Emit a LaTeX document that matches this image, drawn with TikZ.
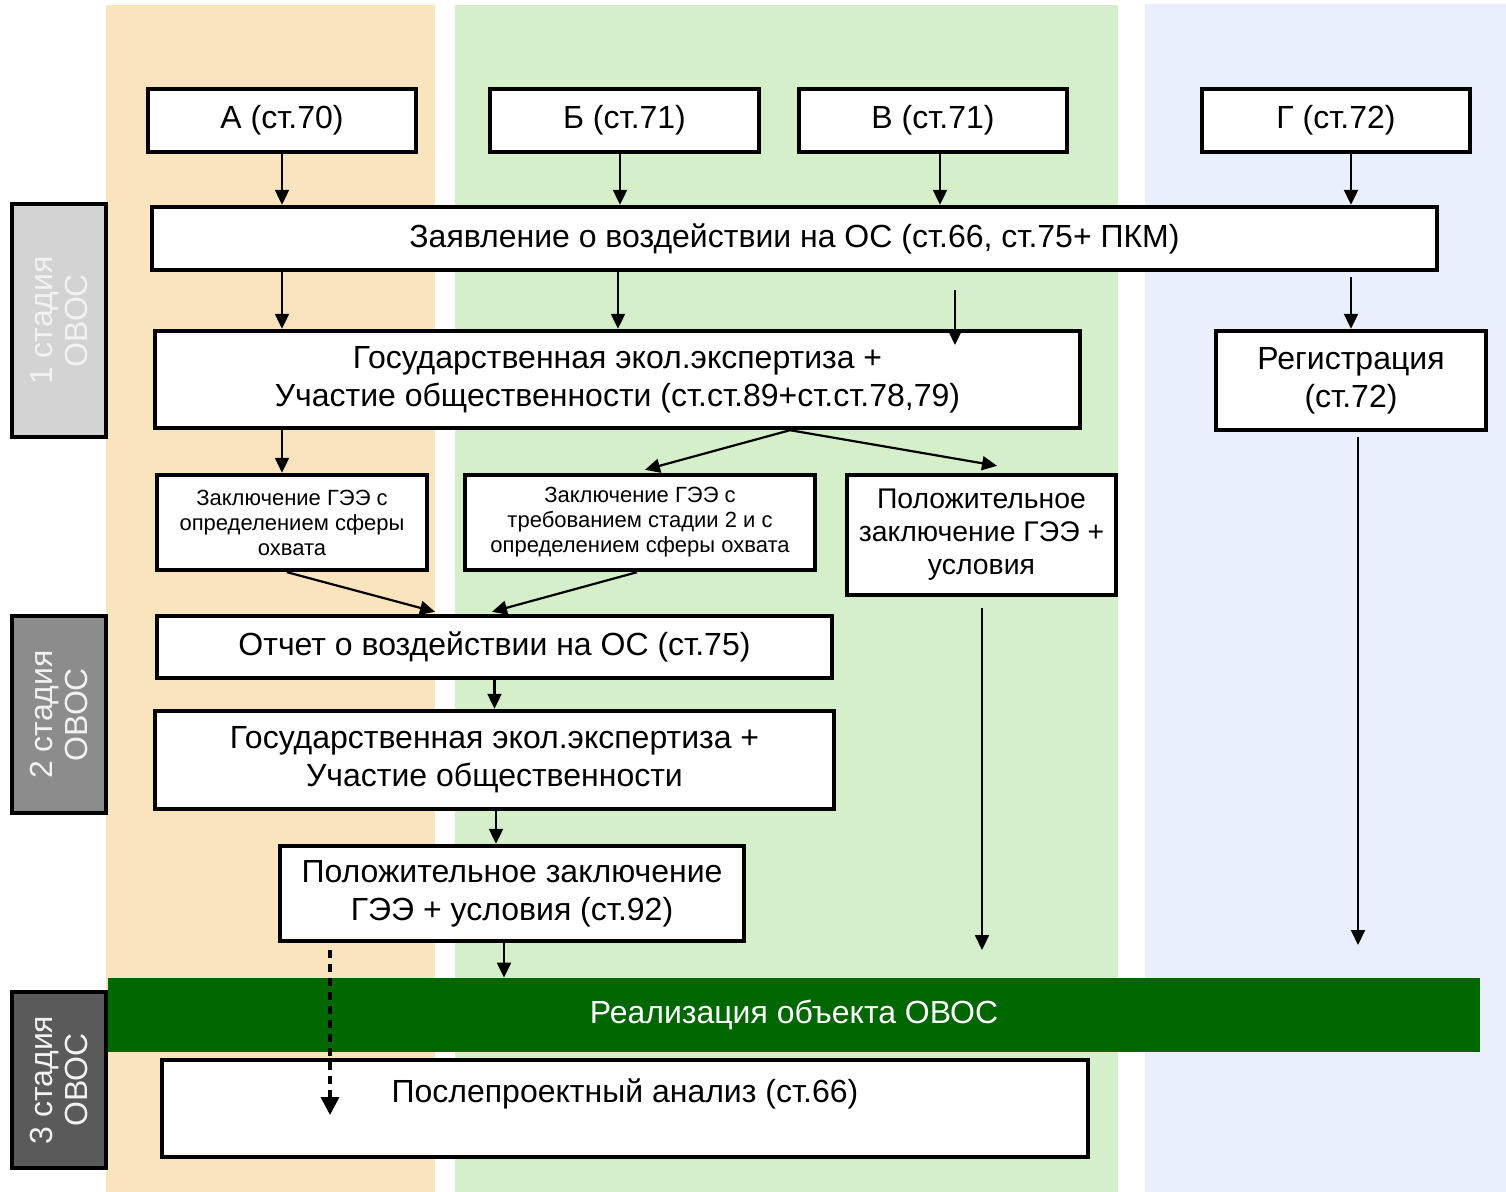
\documentclass[tikz,border=0pt]{standalone}
\usepackage{fontspec}
\setmainfont{Liberation Sans}
\usetikzlibrary{arrows.meta,calc}
\definecolor{colA}{HTML}{FAE4BE}
\definecolor{colB}{HTML}{D6EFCB}
\definecolor{colC}{HTML}{E9EFFD}
\definecolor{barc}{HTML}{006600}
\definecolor{st1}{HTML}{D3D3D3}
\definecolor{st2}{HTML}{8C8C8C}
\definecolor{st3}{HTML}{5A5A5A}
\definecolor{sttext}{HTML}{F2F2F2}
\tikzset{
  box/.style={draw, line width=2.2pt, fill=white, align=center, inner sep=0pt,
    font=\fontsize{16}{19}\selectfont},
  smallbox/.style={box, font=\fontsize{11}{12.5}\selectfont},
  midbox/.style={box, font=\fontsize{14.2}{16.5}\selectfont},
  stagebox/.style={draw, line width=2.2pt, rotate=90, align=center, inner sep=0pt,
    text=sttext, font=\fontsize{16}{17.5}\selectfont, minimum height=47pt},
  arr/.style={line width=1.1pt, -{Triangle[length=7.5pt,width=7pt]}},
  dasharr/.style={line width=1.7pt, dash pattern=on 4pt off 3pt,
    -{Triangle[length=9pt,width=9pt]}}
}
\begin{document}
\begin{tikzpicture}[x=0.5pt,y=-0.5pt]
\useasboundingbox (0,0) rectangle (1506,1192);
\fill[white] (0,0) rectangle (1506,1192);
% columns
\fill[colA] (106,5) rectangle (435,1192);
\fill[colB] (455,5) rectangle (1118,1192);
\fill[colC] (1145,4) rectangle (1506,1192);
% bar
\node[fill=barc, text=white, minimum width=686pt, minimum height=37pt, inner sep=0pt,
  font=\fontsize{16}{19}\selectfont] (bar) at (794,1015) {\raisebox{1.5pt}{Реализация объекта ОВОС}};
% stage labels
\node[stagebox, fill=st1, minimum width=116.5pt] (s1) at (59,320.5) {1 стадия\\ОВОС};
\node[stagebox, fill=st2, minimum width=98.5pt] (s2) at (59,714.5) {2 стадия\\ОВОС};
\node[stagebox, fill=st3, minimum width=88pt] (s3) at (59,1080) {3 стадия\\ОВОС};
% top boxes
\node[box, minimum width=134pt, minimum height=31.5pt] (A) at (282,120.5) {А (ст.70)};
\node[box, minimum width=134.5pt, minimum height=31.5pt] (B) at (624.5,120.5) {Б (ст.71)};
\node[box, minimum width=134pt, minimum height=31.5pt] (V) at (933,120.5) {В (ст.71)};
\node[box, minimum width=134pt, minimum height=31.5pt] (G) at (1336,120.5) {Г (ст.72)};
\node[box, minimum width=642.5pt, minimum height=31.5pt] (Z) at (794.5,238.5) {Заявление о воздействии на ОС (ст.66, ст.75+ ПКМ)};
\node[box, minimum width=462.5pt, minimum height=48.5pt] (G1) at (617.5,379.5) {Государственная экол.экспертиза +\\Участие общественности (ст.ст.89+ст.ст.78,79)};
\node[box, minimum width=135pt, minimum height=49.5pt] (R) at (1351,380.5) {Регистрация\\(ст.72)};
\node[smallbox, minimum width=135pt, minimum height=47.5pt] (K1) at (292,522.5) {Заключение ГЭЭ с\\определением сферы\\охвата};
\node[smallbox, minimum width=175pt, minimum height=47.5pt] (K2) at (640,522.5) {Заключение ГЭЭ с\\требованием стадии 2 и с\\определением сферы охвата};
\node[midbox, minimum width=134.5pt, minimum height=60pt] (P1) at (981.5,535) {Положительное\\заключение ГЭЭ +\\условия};
\node[box, minimum width=337.5pt, minimum height=31pt] (O) at (494.5,647) {Отчет о воздействии на ОС (ст.75)};
\node[box, minimum width=339.5pt, minimum height=49pt] (G2) at (494.5,760) {Государственная экол.экспертиза +\\Участие общественности};
\node[box, minimum width=232pt, minimum height=47.5pt] (P2) at (512,893.5) {Положительное заключение\\ГЭЭ + условия (ст.92)};
\node[box, minimum width=463pt, minimum height=48.5pt, font=\fontsize{16}{18}\selectfont] (PA) at (625,1108.5) {Послепроектный анализ (ст.66)\\\mbox{}};
% coordinates
\coordinate (c618) at (618,0);
\coordinate (f1s) at (955,290);
\coordinate (f1e) at (955,345);
\coordinate (p1e) at (982,950);
\coordinate (r1s) at (1358,437);
\coordinate (r1e) at (1358,945);
\coordinate (ds) at (330,950);
\coordinate (de) at (330,1115);
% arrows
\draw[arr] (A.south) -- (A.south |- Z.north);
\draw[arr] ([xshift=-2.25pt]B.south) -- ([xshift=-2.25pt]B.south |- Z.north);
\draw[arr] ([xshift=3.5pt]V.south) -- ([xshift=3.5pt]V.south |- Z.north);
\draw[arr] ([xshift=7.5pt]G.south) -- ([xshift=7.5pt]G.south |- Z.north);
\draw[arr] (A.south |- Z.south) -- (A.south |- G1.north);
\draw[arr] (c618 |- Z.south) -- (c618 |- G1.north);
\draw[arr] (f1s) -- (f1e);
\draw[arr, shorten <=2.5pt] (R.north |- Z.south) -- (R.north);
\draw[arr] (A.south |- G1.south) -- (A.south |- K1.north);
\draw[arr] ($(G1.south)+(172.5,0)$) -- ($(K2.north)+(5,-3)$);
\draw[arr] ($(G1.south)+(172.5,0)$) -- ($(P1.north)+(15.5,-7)$);
\draw[arr] ($(K1.south)+(-5,0)$) -- ($(O.north)+(-59.5,-2)$);
\draw[arr] ($(K2.south)+(-3,0)$) -- ($(O.north)+(-2.5,-2)$);
\draw[arr] ($(P1.south)+(0.5,11)$) -- (p1e);
\draw[arr] (r1s) -- (r1e);
\draw[arr] (O.south) -- (O.south |- G2.north);
\draw[arr] ([xshift=0.75pt]G2.south) -- ([xshift=0.75pt]G2.south |- P2.north);
\draw[arr] ([xshift=-4pt]P2.south) -- ([xshift=-4pt]P2.south |- bar.north);
\draw[dasharr] (ds) -- (de);
\end{tikzpicture}
\end{document}
